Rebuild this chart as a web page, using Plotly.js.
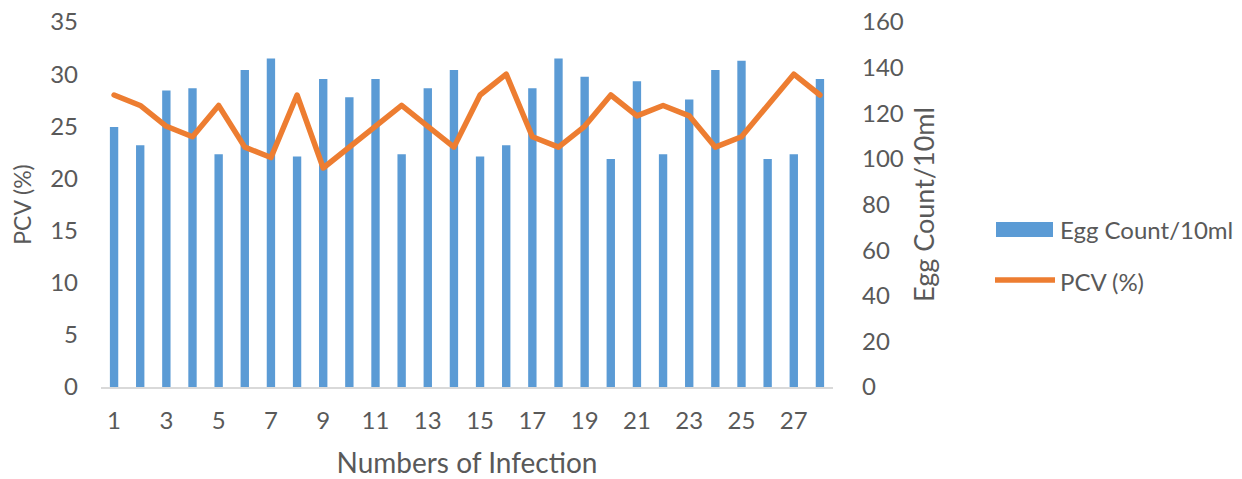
<!DOCTYPE html>
<html>
<head>
<meta charset="utf-8">
<script src="https://cdn.plot.ly/plotly-3.0.1.min.js"></script>
<style>
  html, body { margin: 0; padding: 0; background: #fff; }
  #chart { width: 1242px; height: 479px; }
  .scatterlayer .js-line { stroke-linejoin: round; stroke-linecap: round; }
</style>
</head>
<body>
<div id="chart"></div>
<script>
// Infection number for each sample
const infection = [1,2,3,4,5,6,7,8,9,10,11,12,13,14,15,16,17,18,19,20,21,22,23,24,25,26,27,28];
// Faecal egg count per 10 ml (right axis)
const eggCount = [114,106,130,131,102,139,144,101,135,127,135,102,131,139,101,106,131,144,136,100,134,102,126,139,143,100,102,135];
// Packed cell volume in percent (left axis)
const pcv = [28,27,25,24,27,23,22,28,21,23,25,27,25,23,28,30,24,23,25,28,26,27,26,23,24,27,30,28];
// Labelled ticks on the category axis
const xTicks = [1,3,5,7,9,11,13,15,17,19,21,23,25,27];

const FONT = 'Lato, "Open Sans", sans-serif';
const GREY = '#595959';
const BLUE = '#5B9BD5';
const ORANGE = '#ED7D31';

const traces = [
  {
    type: 'bar',
    name: 'Egg Count/10ml',
    x: infection,
    y: eggCount,
    yaxis: 'y',
    marker: { color: BLUE },
    showlegend: false,
    hoverinfo: 'x+y'
  },
  {
    type: 'scatter',
    mode: 'lines',
    name: 'PCV (%)',
    x: infection,
    y: pcv,
    yaxis: 'y2',
    line: { color: ORANGE, width: 5.5 },
    showlegend: false,
    hoverinfo: 'x+y'
  }
];

// Plot area in pixels, used to place the hand-drawn key in paper units
const L = 101, R = 833, T = 22, B = 387;
const px = v => (v - L) / (R - L);
const py = v => (B - v) / (B - T);

const layout = {
  width: 1242,
  height: 479,
  margin: { l: L, r: 1242 - R, t: T, b: 479 - B, autoexpand: false },
  paper_bgcolor: '#fff',
  plot_bgcolor: '#fff',
  font: { family: FONT, color: GREY, size: 24 },
  bargap: 0.68,
  xaxis: {
    range: [0.5, 28.5],
    tickmode: 'array',
    tickvals: xTicks,
    ticktext: xTicks.map(String),
    ticks: '',
    showgrid: false,
    zeroline: false,
    showline: true,
    linecolor: '#d9d9d9',
    linewidth: 1.5,
    ticklabelstandoff: 12,
    tickfont: { family: FONT, size: 24, color: GREY },
    title: { text: 'Numbers of Infection', font: { family: FONT, size: 28, color: GREY }, standoff: 20 }
  },
  // Egg count axis on the right
  yaxis: {
    side: 'right',
    range: [0, 160],
    dtick: 20,
    tick0: 0,
    ticks: '',
    showgrid: false,
    zeroline: false,
    showline: false,
    ticklabelstandoff: 28,
    tickfont: { family: FONT, size: 24, color: GREY },
    title: { text: 'Egg Count/10ml', font: { family: FONT, size: 27, color: GREY }, standoff: 12 }
  },
  // PCV axis on the left, drawn over the bars
  yaxis2: {
    overlaying: 'y',
    side: 'left',
    range: [0, 35],
    dtick: 5,
    tick0: 0,
    ticks: '',
    showgrid: false,
    zeroline: false,
    showline: false,
    ticklabelstandoff: 22,
    tickfont: { family: FONT, size: 24, color: GREY },
    title: { text: 'PCV (%)', font: { family: FONT, size: 23, color: GREY }, standoff: 12 }
  },
  shapes: [
    { type: 'rect', xref: 'paper', yref: 'paper',
      x0: px(996), x1: px(1053), y0: py(237), y1: py(222),
      fillcolor: BLUE, line: { width: 0 } },
    { type: 'line', xref: 'paper', yref: 'paper',
      x0: px(995), x1: px(1055), y0: py(280), y1: py(280),
      line: { color: ORANGE, width: 5.5 } }
  ],
  annotations: [
    { xref: 'paper', yref: 'paper', x: px(1058), y: py(229), xanchor: 'left', yanchor: 'middle',
      text: 'Egg Count/10ml', showarrow: false, font: { family: FONT, size: 24, color: GREY } },
    { xref: 'paper', yref: 'paper', x: px(1058), y: py(281), xanchor: 'left', yanchor: 'middle',
      text: 'PCV (%)', showarrow: false, font: { family: FONT, size: 24, color: GREY } }
  ]
};

Plotly.newPlot('chart', traces, layout, { displayModeBar: false, staticPlot: true });
</script>
</body>
</html>
